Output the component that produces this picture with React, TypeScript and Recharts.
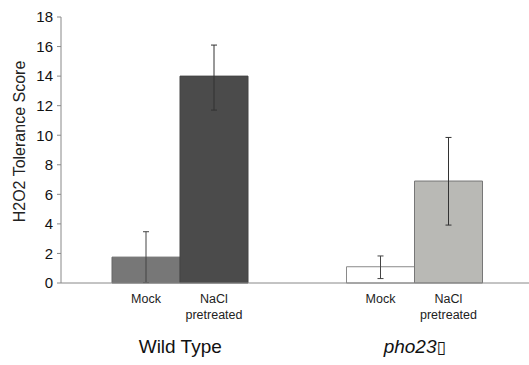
import React from 'react';
import { BarChart, Bar, XAxis, YAxis, ErrorBar, LabelList, Cell, Label } from 'recharts';

const groups = ['Wild Type', 'pho23▯'];
const mockValues = [1.75, 1.1];
const naclValues = [14.0, 6.9];
const mockErrors: [number, number][] = [[1.72, 1.72], [0.8, 0.73]];
const naclErrors: [number, number][] = [[2.3, 2.1], [2.98, 2.95]];
const yTicks = [0, 2, 4, 6, 8, 10, 12, 14, 16, 18];
const mockFills = ['#777777', '#ffffff'];
const mockStrokes = ['#666666', '#8a8a8a'];
const naclFills = ['#4b4b4b', '#b9b9b5'];
const naclStrokes = ['#444444', '#777777'];

const data = groups.map((g, i) => ({
  group: g,
  mock: mockValues[i],
  nacl: naclValues[i],
  mockErr: mockErrors[i],
  naclErr: naclErrors[i],
}));

const FONT = '"Liberation Sans", Arial, Helvetica, sans-serif';

const MockLabel = (props: any) => {
  const { x, y, width, height } = props;
  const base = Number(y) + Number(height);
  return (
    <text x={Number(x) + Number(width) / 2} y={base + 20} textAnchor="middle" fontSize={12.5} fill="#222" fontFamily={FONT}>
      Mock
    </text>
  );
};

const NaclLabel = (props: any) => {
  const { x, y, width, height } = props;
  const base = Number(y) + Number(height);
  const cx = Number(x) + Number(width) / 2;
  return (
    <text textAnchor="middle" fontSize={12.5} fill="#222" fontFamily={FONT}>
      <tspan x={cx} y={base + 20}>NaCl</tspan>
      <tspan x={cx} y={base + 36}>pretreated</tspan>
    </text>
  );
};

const GroupTick = (props: any) => {
  const { x, y, payload } = props;
  const label: string = payload.value;
  const italic = label.startsWith('pho23');
  return (
    <text x={x} y={Number(y) + 62} textAnchor="middle" fontSize={19} fill="#111" fontFamily={FONT}>
      {italic ? (
        <>
          <tspan fontStyle="italic">pho23</tspan>
          <tspan fontFamily="DejaVu Sans" fontSize={17}>{label.slice(5)}</tspan>
        </>
      ) : (
        label
      )}
    </text>
  );
};

const YTitle = (props: any) => {
  const vb = props.viewBox || { x: 0, y: 17, width: 61, height: 266 };
  const tx = Number(vb.x) + 25;
  const ty = Number(vb.y) + Number(vb.height) / 2 - 8.5;
  return (
    <text
      x={tx}
      y={ty}
      transform={`rotate(-90, ${tx}, ${ty})`}
      textAnchor="middle"
      fontSize={16}
      fill="#222"
      fontFamily={FONT}
    >
      H2O2 Tolerance Score
    </text>
  );
};

export default function App() {
  return (
    <div style={{ position: 'absolute', left: 0, top: 0, width: 529, height: 365, overflow: 'hidden', background: '#fff' }}>
      <BarChart
        width={532}
        height={365}
        data={data}
        margin={{ top: 17, right: 0, left: 0, bottom: 0 }}
        barCategoryGap={49}
        barGap={0}
      >
        <XAxis
          dataKey="group"
          height={82}
          padding={{ left: 2, right: 0 }}
          axisLine={{ stroke: '#888', strokeWidth: 1 }}
          tickLine={false}
          tick={<GroupTick />}
          interval={0}
        />
        <YAxis
          width={61}
          domain={[0, 18]}
          ticks={yTicks}
          interval={0}
          tickSize={4}
          tickMargin={4}
          axisLine={{ stroke: '#888', strokeWidth: 1 }}
          tickLine={{ stroke: '#888' }}
          tick={{ fill: '#111', fontSize: 15, fontFamily: FONT }}
        >
          <Label content={<YTitle />} />
        </YAxis>
        <Bar dataKey="mock" barSize={68} isAnimationActive={false} strokeWidth={1}>
          {data.map((d, i) => (
            <Cell key={d.group} fill={mockFills[i]} stroke={mockStrokes[i]} />
          ))}
          <ErrorBar dataKey="mockErr" width={3} stroke="#444" strokeWidth={1} direction="y" />
          <LabelList dataKey="mock" content={<MockLabel />} />
        </Bar>
        <Bar dataKey="nacl" barSize={68} isAnimationActive={false} strokeWidth={1}>
          {data.map((d, i) => (
            <Cell key={d.group} fill={naclFills[i]} stroke={naclStrokes[i]} />
          ))}
          <ErrorBar dataKey="naclErr" width={3} stroke="#333" strokeWidth={1} direction="y" />
          <LabelList dataKey="nacl" content={<NaclLabel />} />
        </Bar>
      </BarChart>
    </div>
  );
}
